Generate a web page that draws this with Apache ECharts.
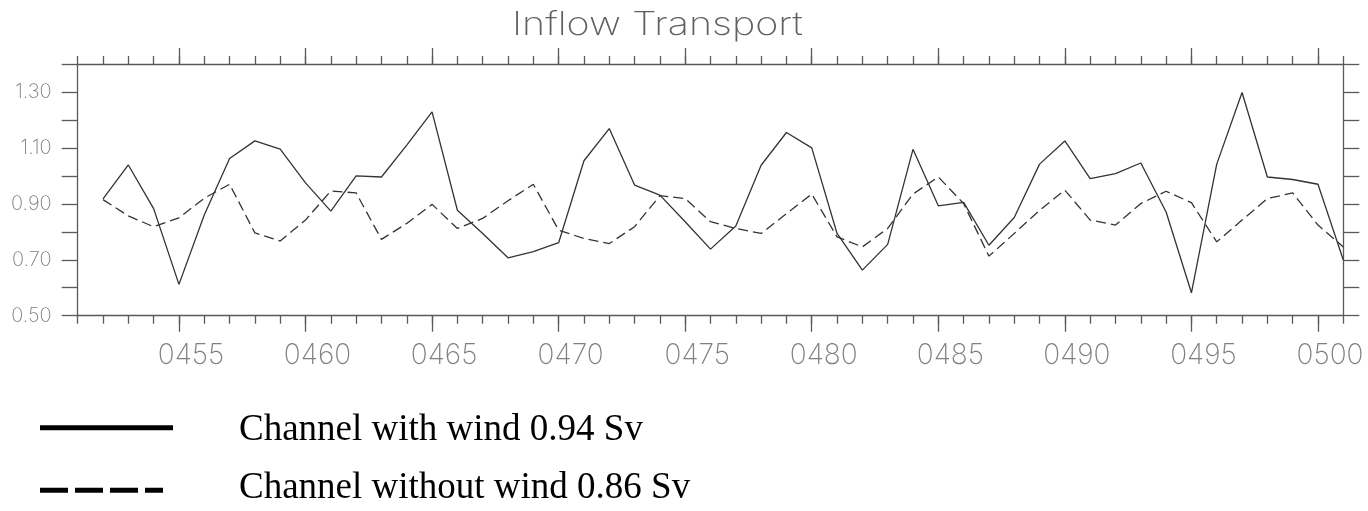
<!DOCTYPE html>
<html>
<head>
<meta charset="utf-8">
<title>Inflow Transport</title>
<script src="https://cdn.jsdelivr.net/npm/echarts@6/dist/echarts.min.js"></script>
<style>
  html, body { margin: 0; padding: 0; background: #ffffff; }
  #chart { width: 1368px; height: 511px; }
</style>
</head>
<body>
<div id="chart"></div>
<script>
// Model years (annual means)
const years = [
  452, 453, 454, 455, 456, 457, 458, 459, 460, 461,
  462, 463, 464, 465, 466, 467, 468, 469, 470, 471,
  472, 473, 474, 475, 476, 477, 478, 479, 480, 481,
  482, 483, 484, 485, 486, 487, 488, 489, 490, 491,
  492, 493, 494, 495, 496, 497, 498, 499, 500, 501
];

// Inflow transport (Sv), channel run with wind forcing
const withWind = [
  0.918, 1.039, 0.883, 0.612, 0.860, 1.062, 1.125, 1.096, 0.975, 0.874,
  1.000, 0.996, 1.110, 1.229, 0.877, 0.794, 0.707, 0.729, 0.761, 1.054,
  1.169, 0.967, 0.931, 0.836, 0.738, 0.821, 1.038, 1.155, 1.100, 0.794,
  0.663, 0.755, 1.095, 0.893, 0.905, 0.752, 0.851, 1.042, 1.125, 0.990,
  1.008, 1.046, 0.871, 0.582, 1.042, 1.298, 0.996, 0.987, 0.970, 0.699
];

// Inflow transport (Sv), channel run without wind forcing
const withoutWind = [
  0.915, 0.857, 0.818, 0.850, 0.920, 0.970, 0.796, 0.767, 0.842, 0.946,
  0.939, 0.773, 0.830, 0.898, 0.812, 0.848, 0.911, 0.970, 0.806, 0.776,
  0.758, 0.818, 0.929, 0.919, 0.836, 0.812, 0.794, 0.865, 0.935, 0.782,
  0.746, 0.812, 0.935, 0.996, 0.901, 0.713, 0.794, 0.877, 0.949, 0.842,
  0.824, 0.901, 0.945, 0.904, 0.764, 0.842, 0.919, 0.939, 0.824, 0.746
];

// Labelled x ticks (years) and labelled y ticks (Sv)
const yearTicks = [455, 460, 465, 470, 475, 480, 485, 490, 495, 500];
const transportTicks = [0.5, 0.7, 0.9, 1.1, 1.3];

// Legend entries
const legendNames = ['Channel with wind 0.94 Sv', 'Channel without wind 0.86 Sv'];

const AXIS_COLOR = '#5a5a5a';
const LABEL_COLOR = '#808080';
const LINE_COLOR = '#333333';
const THIN_FONT = 'Inter';

const pair = (xs, ys) => xs.map((x, i) => [x, ys[i]]);

function xAxisLayer(position, customTicks, tickLen, withLabels) {
  const ax = {
    type: 'value',
    position: position,
    min: 451,
    max: 501,
    interval: 1,
    splitLine: { show: false },
    axisLine: { show: !customTicks, lineStyle: { color: AXIS_COLOR, width: 1.3 } },
    axisTick: { show: true, inside: false, length: tickLen, lineStyle: { color: AXIS_COLOR, width: 1.3 } },
    axisLabel: { show: false }
  };
  if (customTicks) {
    ax.axisTick.customValues = customTicks;
  }
  if (withLabels) {
    ax.axisLabel = {
      show: true,
      customValues: customTicks,
      formatter: v => '0' + v,
      fontFamily: THIN_FONT,
      fontWeight: 200,
      fontSize: 28,
      color: LABEL_COLOR,
      margin: 26,
      padding: [0, 0, 0, 24]
    };
  }
  return ax;
}

function yAxisLayer(position, withLabels) {
  return {
    type: 'value',
    position: position,
    min: 0.5,
    max: 1.4,
    interval: 0.1,
    splitLine: { show: false },
    axisLine: { show: true, lineStyle: { color: AXIS_COLOR, width: 1.3 } },
    axisTick: { show: true, inside: false, length: 16, lineStyle: { color: AXIS_COLOR, width: 1.3 } },
    axisLabel: withLabels ? {
      show: true,
      customValues: transportTicks,
      formatter: v => v.toFixed(2),
      fontFamily: THIN_FONT,
      fontWeight: 200,
      fontSize: 20,
      color: LABEL_COLOR,
      margin: 26
    } : { show: false }
  };
}

const chart = echarts.init(document.getElementById('chart'), null, { renderer: 'canvas' });

chart.setOption({
  backgroundColor: '#ffffff',
  animation: false,
  grid: { left: 77.7, right: 24.7, top: 64, bottom: 195.3, containLabel: false },
  xAxis: [
    xAxisLayer('bottom', null, 8, false),
    xAxisLayer('bottom', yearTicks, 16, true),
    xAxisLayer('top', null, 8, false),
    xAxisLayer('top', yearTicks, 16, false)
  ],
  yAxis: [
    yAxisLayer('left', true),
    yAxisLayer('right', false)
  ],
  series: [
    {
      name: legendNames[0],
      type: 'line',
      data: pair(years, withWind),
      showSymbol: false,
      lineStyle: { color: LINE_COLOR, width: 1.3, type: 'solid' }
    },
    {
      name: legendNames[1],
      type: 'line',
      data: pair(years, withoutWind),
      showSymbol: false,
      lineStyle: { color: LINE_COLOR, width: 1.3, type: [10, 5] }
    }
  ],
  graphic: [
    {
      // wide, thin title lettering
      type: 'text',
      x: 512,
      y: 9.5,
      scaleX: 1.23,
      style: {
        text: 'Inflow Transport',
        fontFamily: THIN_FONT,
        fontWeight: 200,
        fontSize: 32,
        fill: '#606060',
        align: 'left',
        verticalAlign: 'top'
      }
    },
    {
      type: 'line',
      shape: { x1: 40, y1: 427.8, x2: 173, y2: 427.8 },
      style: { stroke: '#000000', lineWidth: 5 }
    },
    {
      type: 'line',
      shape: { x1: 40, y1: 490.3, x2: 163, y2: 490.3 },
      style: { stroke: '#000000', lineWidth: 5, lineDash: [28, 7] }
    },
    {
      type: 'text',
      x: 239,
      y: 430,
      style: {
        text: legendNames[0],
        fontFamily: 'Liberation Serif',
        fontSize: 37,
        fill: '#000000',
        verticalAlign: 'middle'
      }
    },
    {
      type: 'text',
      x: 239,
      y: 488.5,
      style: {
        text: legendNames[1],
        fontFamily: 'Liberation Serif',
        fontSize: 37,
        fill: '#000000',
        verticalAlign: 'middle'
      }
    }
  ]
});
</script>
</body>
</html>
